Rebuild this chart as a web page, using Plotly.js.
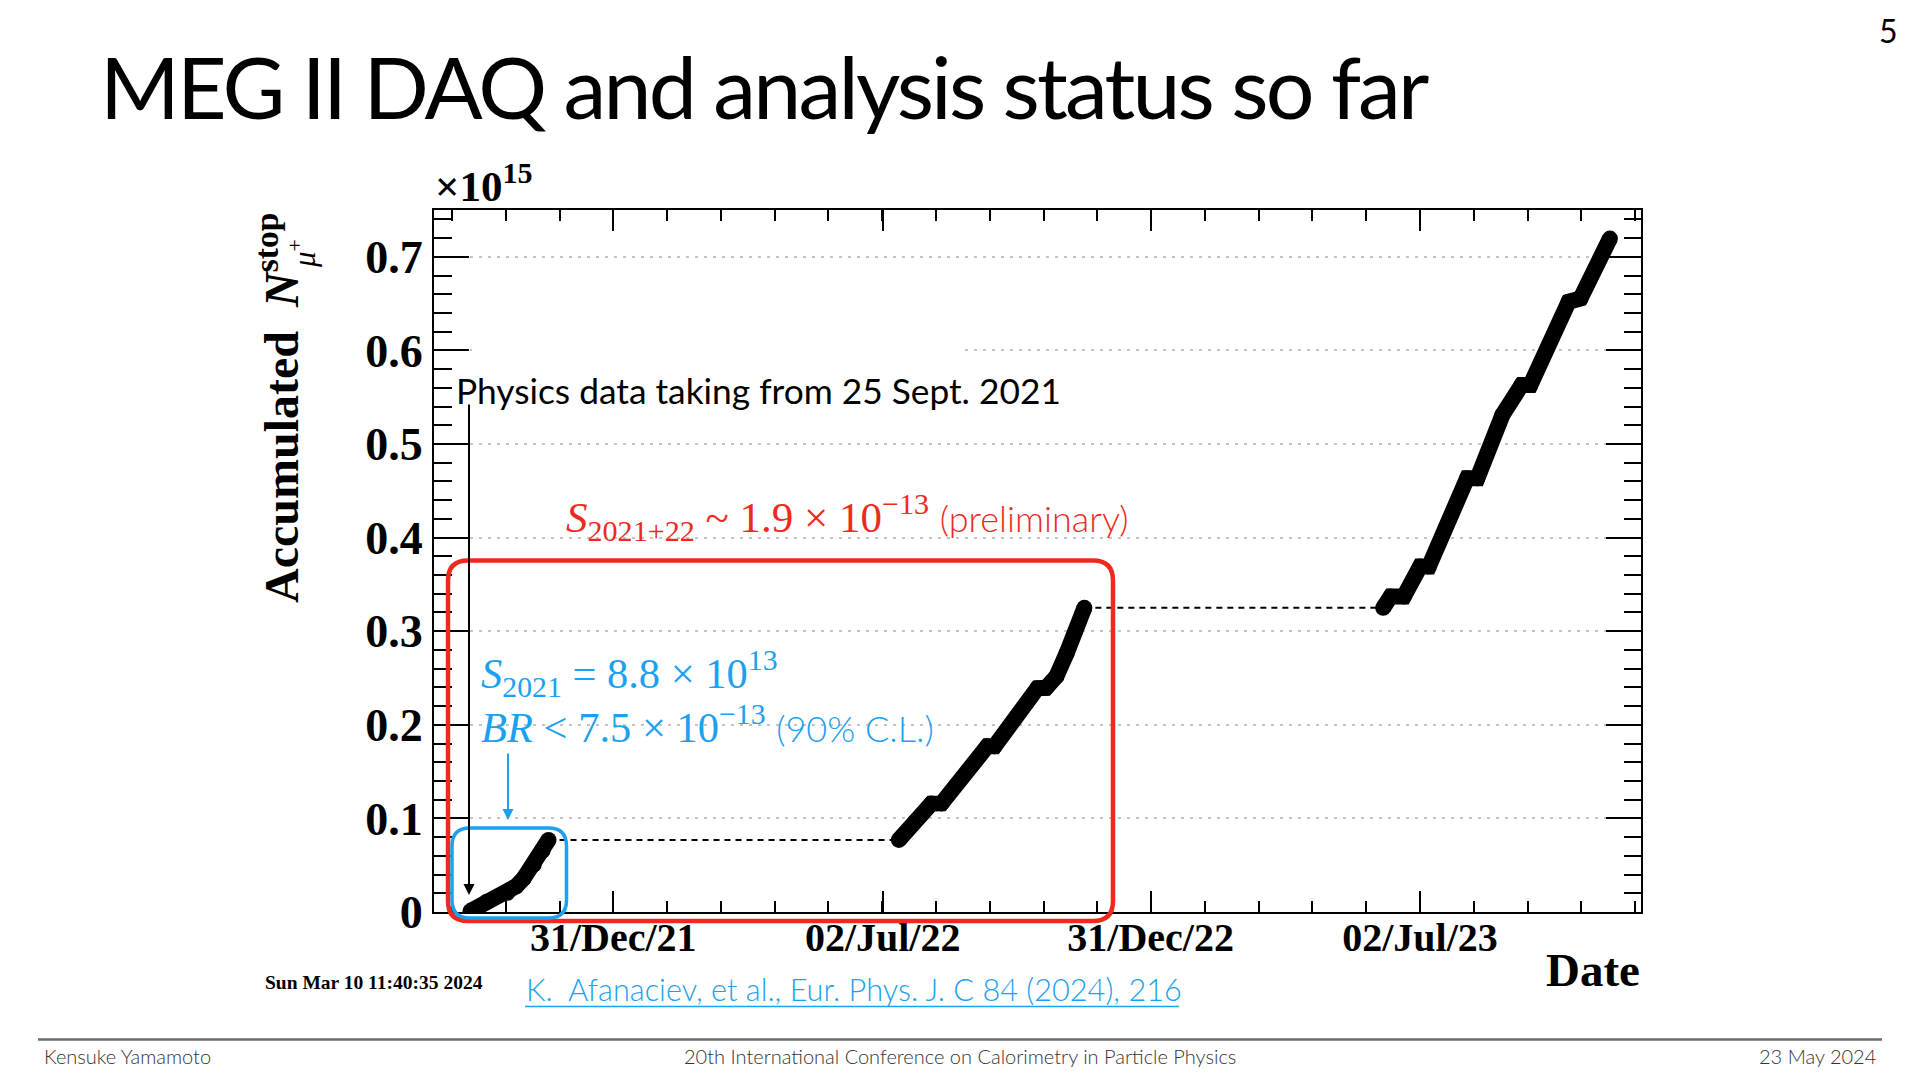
<!DOCTYPE html>
<html><head><meta charset="utf-8">
<script src="https://cdn.plot.ly/plotly-3.0.1.min.js"></script>
<style>html,body{margin:0;padding:0;background:#fff;overflow:hidden;} #chart{width:1920px;height:1080px;}</style>
</head><body><div id="chart"></div>
<script>
// ---- data ----
const dates2021 = ['2021-09-25','2021-10-06','2021-10-20','2021-10-26','2021-10-31','2021-11-07','2021-11-13','2021-11-17'];
const values2021 = [0.001,0.011,0.0205,0.0275,0.0357,0.0507,0.0656,0.0770];
const dates2022 = ['2022-07-13','2022-08-04','2022-08-11','2022-09-11','2022-09-16','2022-10-15','2022-10-21','2022-10-28','2022-11-04','2022-11-16'];
const values2022 = [0.077,0.1158,0.116,0.177,0.177,0.239,0.2395,0.2517,0.2766,0.325];
const dates2023 = ['2023-06-07','2023-06-12','2023-06-21','2023-07-02','2023-07-08','2023-08-03','2023-08-10','2023-08-27','2023-09-09','2023-09-15','2023-10-11','2023-10-19','2023-11-08'];
const values2023 = [0.325,0.337,0.337,0.369,0.369,0.4634,0.4634,0.531,0.563,0.563,0.652,0.6555,0.7195];
const xTickDates = ['2021-12-31','2022-07-02','2022-12-31','2023-07-02'];
const xTickLabels = ['31/Dec/21','02/Jul/22','31/Dec/22','02/Jul/23'];
const yTickVals = [0,0.1,0.2,0.3,0.4,0.5,0.6,0.7];
const yTickLabels = ['0','0.1','0.2','0.3','0.4','0.5','0.6','0.7'];

// ---- layout helpers ----
const SERIF = '"Liberation Serif", "Times New Roman", serif';
const SANS = 'Lato, "Open Sans", sans-serif';
const RED = '#ee2a1e', BLUE = '#1ca0f0';
const L = 434, T = 210, W = 1207, H = 702;
const px = x => (x - L) / W;
const py = y => (T + H - y) / H;
function rrect(x0, y0, x1, y1, r) {
  const X = px, Y = py;
  return `M${X(x0+r)},${Y(y0)} L${X(x1-r)},${Y(y0)} Q${X(x1)},${Y(y0)} ${X(x1)},${Y(y0+r)} ` +
         `L${X(x1)},${Y(y1-r)} Q${X(x1)},${Y(y1)} ${X(x1-r)},${Y(y1)} L${X(x0+r)},${Y(y1)} ` +
         `Q${X(x0)},${Y(y1)} ${X(x0)},${Y(y1-r)} L${X(x0)},${Y(y0+r)} Q${X(x0)},${Y(y0)} ${X(x0+r)},${Y(y0)} Z`;
}
function ann(text, x, y, xanchor, yanchor, font, extra) {
  return Object.assign({xref:'paper', yref:'paper', x:px(x), y:py(y), xanchor, yanchor,
    text, showarrow:false, font, borderpad:0}, extra || {});
}

const curveLine = {color:'#000', width:16};
const curveMarker = {color:'#000', size:16};
const traces = [
  {x:[dates2021[dates2021.length-1], dates2022[0]], y:[values2021[values2021.length-1], values2021[values2021.length-1]],
   mode:'lines', line:{color:'#000', width:2, dash:'6px,5px'}, hoverinfo:'skip'},
  {x:[dates2022[dates2022.length-1], dates2023[0]], y:[values2022[values2022.length-1], values2022[values2022.length-1]],
   mode:'lines', line:{color:'#000', width:2, dash:'6px,5px'}, hoverinfo:'skip'},
  {x:dates2021, y:values2021, mode:'lines+markers', line:curveLine, marker:curveMarker},
  {x:dates2022, y:values2022, mode:'lines+markers', line:curveLine, marker:curveMarker},
  {x:dates2023, y:values2023, mode:'lines+markers', line:curveLine, marker:curveMarker}
];

const axisCommon = {showline:true, linewidth:2, linecolor:'#000', mirror:'ticks', ticks:'inside',
  tickwidth:2, tickcolor:'#000', zeroline:false};

const layout = {
  width:1920, height:1080, paper_bgcolor:'#fff', plot_bgcolor:'#fff', showlegend:false,
  margin:{l:L, r:1920-L-W, t:T, b:1080-T-H, pad:0},
  title:{text:'<span style="letter-spacing:-2.8px">MEG II DAQ and analysis status so far</span>', font:{family:SANS, size:86, color:'#000'},
    xref:'container', yref:'container', x:100/1920, xanchor:'left', y:1-119/1080, yanchor:'bottom', pad:{t:0,b:0,l:0,r:0}},
  xaxis:Object.assign({}, axisCommon, {type:'date', range:['2021-08-31 04:48','2023-11-29 03:07'],
    tickfont:{family:SERIF, size:40, color:'#000', weight:'bold'},
    tickmode:'array', tickvals:xTickDates, ticktext:xTickLabels, ticklen:21, showgrid:false, ticklabelstandoff:-11,
    minor:{tickmode:'linear', tick0:'2021-12-31', dtick:36.533*86400000, ticks:'inside', ticklen:11, tickwidth:2, tickcolor:'#000', showgrid:false}}),
  yaxis:Object.assign({}, axisCommon, {range:[0,0.75], tickmode:'array', tickvals:yTickVals, ticktext:yTickLabels,
    tickfont:{family:SERIF, size:46, color:'#000', weight:'bold'},
    ticklen:35, showgrid:true, gridcolor:'#c4c4c4', gridwidth:2, griddash:'3px,6px', ticklabelstandoff:0,
    minor:{tickmode:'linear', tick0:0, dtick:0.02, ticks:'inside', ticklen:17.5, tickwidth:2, tickcolor:'#000', showgrid:false}}),
  shapes:[
    {type:'rect', xref:'paper', yref:'paper', x0:px(472), x1:px(962), y0:py(355), y1:py(347), fillcolor:'#fff', line:{width:0}, layer:'above'},
    {type:'path', xref:'paper', yref:'paper', path:rrect(448, 560.5, 1113, 921, 20), line:{color:RED, width:4.5}, layer:'above'},
    {type:'path', xref:'paper', yref:'paper', path:rrect(452, 828, 566.5, 918, 18), line:{color:BLUE, width:3.5}, layer:'above'},
    {type:'line', xref:'paper', yref:'paper', x0:px(38), x1:px(1882), y0:py(1039.5), y1:py(1039.5), line:{color:'#6b6b6b', width:2.5}},
    {type:'line', xref:'paper', yref:'paper', x0:px(525), x1:px(1179), y0:py(1006.5), y1:py(1006.5), line:{color:BLUE, width:1.5}}
  ],
  annotations:[
    ann('5', 1899, 44+7, 'right', 'bottom', {family:SANS, size:32, color:'#000'}),
    ann('×10<sup>15</sup>', 434, 202+9, 'left', 'bottom', {family:SERIF, size:43, color:'#000', weight:'bold'}),
    ann('Accumulated&nbsp;&nbsp;<i>N</i><sup>stop</sup>', 309, 212, 'right', 'top', {family:SERIF, size:48, color:'#000', weight:'bold'}, {textangle:-90}),
    ann('<i>μ</i><sup>+</sup>', 323, 238, 'right', 'top', {family:SERIF, size:31, color:'#000'}, {textangle:-90}),
    ann('Date', 1641, 987+10, 'right', 'bottom', {family:SERIF, size:47, color:'#000', weight:'bold'}),
    ann('Sun Mar 10 11:40:35 2024', 264, 990+4, 'left', 'bottom', {family:SERIF, size:19.5, color:'#000', weight:'bold'}),
    ann('Physics data taking from 25 Sept. 2021', 455, 405+8, 'left', 'bottom', {family:SANS, size:35.3, color:'#000'}),
    ann('<i>S</i><sub>2021+22</sub>&nbsp;~&nbsp;1.9 × 10<sup>−13</sup> <span style="font-family:Lato;font-size:36px;font-weight:300">(preliminary)</span>',
        565, 534+15, 'left', 'bottom', {family:SERIF, size:43, color:RED}),
    ann('<i>S</i><sub>2021</sub> = 8.8 × 10<sup>13</sup>', 480, 689+15, 'left', 'bottom', {family:SERIF, size:42.5, color:BLUE}),
    ann('<i>BR</i> &lt; 7.5 × 10<sup>−13</sup> <span style="font-family:Lato;font-size:36px;font-weight:300">(90% C.L.)</span>',
        480, 742+10, 'left', 'bottom', {family:SERIF, size:42.5, color:BLUE}),
    ann('K.  Afanaciev, et al., Eur. Phys. J. C 84 (2024), 216', 525, 1003+6, 'left', 'bottom', {family:SANS, size:30.7, color:BLUE, weight:300}),
    ann('Kensuke Yamamoto', 43, 1065+4, 'left', 'bottom', {family:SANS, size:20, color:'#333', weight:300}),
    ann('20th International Conference on Calorimetry in Particle Physics', 960, 1065+4, 'center', 'bottom', {family:SANS, size:20, color:'#333', weight:300}),
    ann('23 May 2024', 1877, 1065+4, 'right', 'bottom', {family:SANS, size:20, color:'#333', weight:300}),
    {xref:'paper', yref:'paper', x:px(469), y:py(895), ax:0, ay:-492, axref:'pixel', ayref:'pixel', text:'', showarrow:true,
     arrowhead:2, arrowsize:1.1, arrowwidth:2, arrowcolor:'#000', standoff:0},
    {xref:'paper', yref:'paper', x:px(508), y:py(820), ax:0, ay:-68, axref:'pixel', ayref:'pixel', text:'', showarrow:true,
     arrowhead:2, arrowsize:1.1, arrowwidth:2, arrowcolor:BLUE, standoff:0}
  ]
};

Plotly.newPlot('chart', traces, layout, {staticPlot:true, displayModeBar:false});
</script>
</body></html>
